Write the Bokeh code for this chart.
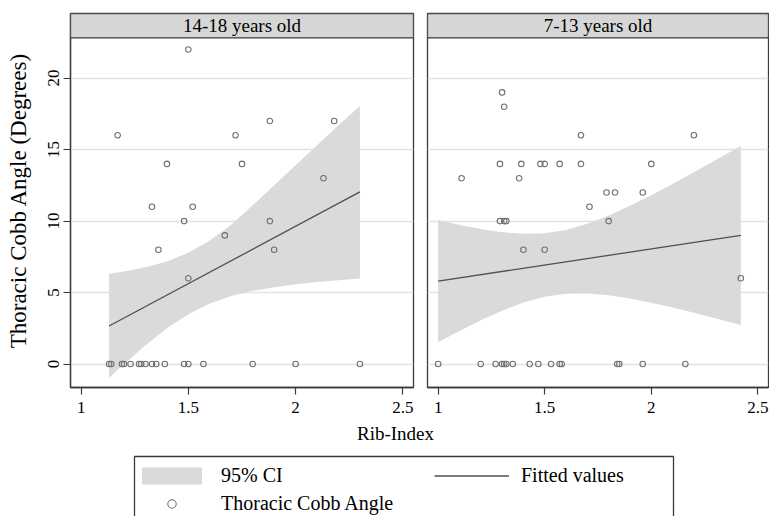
import math
from bokeh.plotting import figure
from bokeh.models import (Range1d, FixedTicker, NumeralTickFormatter, BoxAnnotation,
                          Label, Legend, LegendItem)
from bokeh.layouts import column, row
from bokeh.embed import file_html
from bokeh.resources import INLINE

# ---------------- data ----------------
panel_titles = ["14-18 years old", "7-13 years old"]
x_ticks = [1, 1.5, 2, 2.5]
y_ticks = [0, 5, 10, 15, 20]
x_title = "Rib-Index"
y_title = "Thoracic Cobb Angle (Degrees)"
legend_labels = ["95% CI", "Thoracic Cobb Angle", "Fitted values"]

# 14-18 years old
older_rib = [1.13, 1.14, 1.19, 1.20, 1.23, 1.27, 1.28, 1.30, 1.33, 1.35, 1.39, 1.48, 1.50,
             1.57, 1.80, 2.00, 2.30,
             1.50, 1.17, 1.72, 1.40, 1.75, 1.88, 2.18, 2.13, 1.33, 1.52, 1.48, 1.88,
             1.67, 1.36, 1.90, 1.50]
older_cobb = [0, 0, 0, 0, 0, 0, 0, 0, 0, 0, 0, 0, 0,
              0, 0, 0, 0,
              22, 16, 16, 14, 14, 17, 17, 13, 11, 11, 10, 10,
              9, 8, 8, 6]
older_fit_x = [1.13, 2.30]
older_fit_y = [2.66, 12.04]
older_ci_x = [1.13, 1.2, 1.3, 1.4, 1.5, 1.6, 1.7, 1.8, 1.9, 2.0, 2.1, 2.2, 2.3]
older_ci_hi = [6.32, 6.47, 6.77, 7.18, 7.79, 8.64, 9.75, 11.10, 12.50, 13.90, 15.30, 16.70, 18.05]
older_ci_lo = [-0.96, 0.01, 1.31, 2.50, 3.49, 4.24, 4.76, 5.12, 5.38, 5.58, 5.74, 5.87, 5.99]

# 7-13 years old
younger_rib = [1.00, 1.20, 1.27, 1.30, 1.31, 1.32, 1.35, 1.43, 1.47, 1.53, 1.57, 1.58,
               1.84, 1.85, 1.96, 2.16,
               1.30, 1.31, 1.67, 2.20, 1.29, 1.39, 1.48, 1.50, 1.57, 1.67, 2.00, 1.11,
               1.38, 1.79, 1.83, 1.96, 1.71, 1.29, 1.31, 1.32, 1.80, 1.40, 1.50, 2.42]
younger_cobb = [0, 0, 0, 0, 0, 0, 0, 0, 0, 0, 0, 0,
                0, 0, 0, 0,
                19, 18, 16, 16, 14, 14, 14, 14, 14, 14, 14, 13,
                13, 12, 12, 12, 11, 10, 10, 10, 10, 8, 8, 6]
younger_fit_x = [1.00, 2.42]
younger_fit_y = [5.80, 9.00]
younger_ci_x = [1.0, 1.1, 1.2, 1.3, 1.4, 1.5, 1.6, 1.7, 1.8, 1.9, 2.0, 2.1, 2.2, 2.3, 2.42]
younger_ci_hi = [10.07, 9.73, 9.44, 9.22, 9.11, 9.15, 9.38, 9.81, 10.39, 11.07, 11.81,
                 12.60, 13.41, 14.25, 15.26]
younger_ci_lo = [1.53, 2.32, 3.06, 3.73, 4.30, 4.70, 4.92, 4.94, 4.81, 4.58, 4.29,
                 3.95, 3.59, 3.20, 2.73]

# ---------------- style ----------------
FONT = "Liberation Serif"
OUTLINE = "#3a3a3a"
BAND = "#dadada"
HEADER = "#d6d6d6"
FITC = "#505050"
PTC = "#707070"
GRIDC = "#e2e2e2"

X0, X1 = 0.95, 2.55
Y0, Y1 = -1.64, 24.52
HEADER_BOTTOM = 22.81


def make_panel(title, rib, cobb, fx, fy, cx, clo, chi, width, bl, br, show_y):
    p = figure(width=width, height=420, output_backend="svg", toolbar_location=None,
               x_range=Range1d(X0, X1), y_range=Range1d(Y0, Y1),
               min_border_left=bl, min_border_right=br, min_border_top=13,
               min_border_bottom=33)
    p.background_fill_color = "white"
    p.border_fill_color = "white"
    p.outline_line_color = OUTLINE
    p.outline_line_width = 1.3
    p.outline_line_alpha = 1

    p.xgrid.visible = False
    p.ygrid.ticker = FixedTicker(ticks=y_ticks)
    p.ygrid.grid_line_color = GRIDC
    p.ygrid.grid_line_width = 1.5

    p.varea(x=cx, y1=clo, y2=chi, fill_color=BAND, fill_alpha=1)
    p.line(fx, fy, line_color=FITC, line_width=1.3)
    p.scatter(rib, cobb, marker="circle", size=5.5, fill_color=None,
              line_color=PTC, line_width=1.1)

    header = BoxAnnotation(bottom=HEADER_BOTTOM, fill_color=HEADER, fill_alpha=1,
                           line_color=OUTLINE, line_width=1.3, line_alpha=1)
    p.add_layout(header)
    p.add_layout(Label(x=(X0 + X1) / 2, y=(HEADER_BOTTOM + Y1) / 2, text=title,
                       text_align="center", text_baseline="middle",
                       text_font=FONT, text_font_size="19px", text_color="black"))

    ax = p.xaxis[0]
    ax.ticker = FixedTicker(ticks=x_ticks)
    ax.formatter = NumeralTickFormatter(format="0.[0]")
    ax.major_tick_out = 7
    ax.major_tick_in = 0
    ax.minor_tick_out = 0
    ax.minor_tick_in = 0
    ax.axis_line_color = OUTLINE
    ax.axis_line_width = 1.3
    ax.major_tick_line_color = OUTLINE
    ax.major_tick_line_width = 1.2
    ax.major_label_text_font = FONT
    ax.major_label_text_font_size = "17px"
    ax.major_label_text_color = "black"
    ax.major_label_standoff = 7

    ay = p.yaxis[0]
    ay.ticker = FixedTicker(ticks=y_ticks)
    if show_y:
        ay.major_tick_out = 7
        ay.major_tick_in = 0
        ay.minor_tick_out = 0
        ay.minor_tick_in = 0
        ay.axis_line_color = OUTLINE
        ay.axis_line_width = 1.3
        ay.major_tick_line_color = OUTLINE
        ay.major_tick_line_width = 1.2
        ay.major_label_text_font = FONT
        ay.major_label_text_font_size = "17px"
        ay.major_label_text_color = "black"
        ay.major_label_orientation = "vertical"
        ay.major_label_standoff = 4
        ay.axis_label = y_title
        ay.axis_label_text_font = FONT
        ay.axis_label_text_font_size = "23px"
        ay.axis_label_text_font_style = "normal"
        ay.axis_label_text_color = "black"
        ay.axis_label_standoff = 15
    else:
        ay.visible = False
    return p


p1 = make_panel(panel_titles[0], older_rib, older_cobb, older_fit_x, older_fit_y,
                older_ci_x, older_ci_lo, older_ci_hi, 420, 70, 7, True)
p2 = make_panel(panel_titles[1], younger_rib, younger_cobb, younger_fit_x, younger_fit_y,
                younger_ci_x, younger_ci_lo, younger_ci_hi, 349, 7, 1, False)

# bottom strip: shared x title + legend. Its frame covers the whole strip and
# its ranges are in pixels (y downwards) so the layout pieces can be placed.
W3, H3 = 769, 96
p3 = figure(width=W3, height=H3, output_backend="svg", toolbar_location=None,
            x_range=Range1d(0, W3), y_range=Range1d(H3, 0),
            x_axis_location=None, y_axis_location=None, min_border=0)
p3.grid.visible = False
p3.outline_line_color = None
p3.background_fill_color = "white"
p3.border_fill_color = "white"

p3.add_layout(Label(x=395, y=13, text=x_title, text_align="center",
                    text_baseline="middle", text_font=FONT, text_font_size="19px",
                    text_color="black"))
# legend box (its bottom edge lies below the visible strip)
p3.add_layout(BoxAnnotation(left=134, right=673, top=36, bottom=H3 + 30,
                            fill_alpha=0, line_color=OUTLINE, line_width=1.3,
                            line_alpha=1))

# legend proxies: drawn from the data on hidden extra ranges (off-frame)
p3.extra_x_ranges = {"proxy": Range1d(10, 11)}
p3.extra_y_ranges = {"proxy": Range1d(100, 101)}
r_band = p3.varea(x=older_ci_x, y1=older_ci_lo, y2=older_ci_hi, fill_color=BAND,
                  fill_alpha=1, x_range_name="proxy", y_range_name="proxy")
r_pts = p3.scatter(older_rib, older_cobb, marker="circle", size=5.5, fill_color=None,
                   line_color=PTC, line_width=1.1, x_range_name="proxy",
                   y_range_name="proxy")
r_fit = p3.line(older_fit_x, older_fit_y, line_color=FITC, line_width=1.3,
                x_range_name="proxy", y_range_name="proxy")

legend = Legend(items=[LegendItem(label=legend_labels[0], renderers=[r_band]),
                       LegendItem(label=legend_labels[1], renderers=[r_pts]),
                       LegendItem(label=legend_labels[2], renderers=[r_fit])],
                location=(134, 1), orientation="vertical", nrows=2,
                glyph_width=75, glyph_height=21, label_width=208, label_height=21,
                label_standoff=12, spacing=5, padding=7, margin=0,
                border_line_color=None, background_fill_alpha=0,
                label_text_font=FONT, label_text_font_size="20px",
                label_text_color="black")
p3.add_layout(legend, "center")

layout = column(row(p1, p2), p3)

open("out.html", "w").write(file_html(layout, INLINE))
